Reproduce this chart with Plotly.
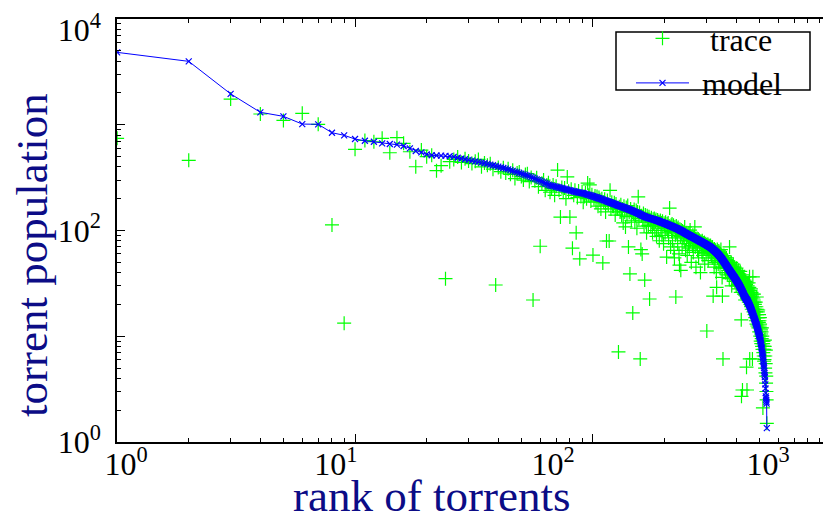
import plotly.graph_objects as go

# ---------------- data ----------------
MODEL = [
    4840, 3980, 1960, 1312, 1202, 1016, 1010, 841, 795, 733, 706, 691, 667, 658, 648, 630, 599, 565, 549, 525, 515, 512, 510, 508, 505,
    497, 488, 480, 472, 465, 458, 451, 445, 439, 433, 427, 420, 414, 408, 402, 396, 390, 385, 379, 373, 367, 361, 356, 350, 345,
    340, 335, 330, 325, 320, 315, 310, 305, 300, 295, 290, 285, 280, 276, 271, 267,
    265, 263, 261, 259, 257, 255, 253, 251, 249, 247, 245, 243, 241, 240, 238, 236, 235, 233, 232, 230, 229, 228, 227, 226, 225,
    223, 221, 220, 218, 217, 215, 214, 212, 211, 209, 208, 206, 205, 203, 202, 200, 199, 197, 196, 194, 193, 192, 190, 189, 187,
    186, 185, 183, 182, 181, 179, 178, 177, 176, 174,
    173, 172, 171, 170, 169, 168, 167, 166, 165, 164, 163, 162, 161, 160, 159, 158, 157, 156, 155, 154, 153, 152, 151, 150, 149,
    148, 147, 146, 145, 144, 143, 142, 141, 140, 139, 138, 137, 137, 136, 135, 134, 134, 133, 132, 132, 131, 131,
    130, 130, 129, 129, 128, 128, 127, 127, 126, 126, 125, 125, 124, 124, 123, 123, 122, 121, 121, 120,
    120, 119, 119, 118, 118, 117, 117, 116, 116, 115, 115, 114, 114, 113, 113, 112, 112, 111, 111, 110,
    110, 109, 109, 108, 108, 107, 107, 106, 106, 105, 105, 104, 104, 103, 103, 102, 102, 101, 101, 100,
    100, 99, 99, 98, 98, 97,
    96.5, 96, 95.5, 95, 94.6, 94.1, 93.6, 93.2, 92.7, 92.2, 91.8, 91.3, 90.9, 90.5, 90, 89.6, 89.2, 88.7, 88.3, 87.9,
    87.5, 87.1, 86.7, 86.3, 85.9, 85.5, 85.1, 84.7, 84.3, 83.9, 83.5, 83.2, 82.8, 82.4, 82.1, 81.7, 81.3, 81, 80.6, 80.3,
    79.9, 79.6, 79.2, 78.9, 78.5, 78.2, 77.9, 77.5, 77.2, 76.9, 76.5, 76.2, 75.9, 75.5, 75.2, 74.9, 74.5, 74.2, 73.9, 73.5,
    73.2, 72.9, 72.5, 72.2, 71.9, 71.5, 71.2, 70.9, 70.6, 70.3, 70,
    69.7, 69.3, 68.9, 68.5, 68.1, 67.7, 67.3, 66.9, 66.5, 66.1, 65.7, 65.3, 64.9, 64.5, 64.1, 63.7, 63.3, 62.9, 62.5, 62.1,
    61.7, 61.3, 60.8, 60.4, 60, 59.5, 59.1, 58.6, 58.2, 57.7, 57.3, 56.8, 56.3, 55.9, 55.4, 54.9, 54.5, 54, 53.5, 53.1, 52.6, 52.1,
    51.6, 51.1, 50.6, 50.2, 49.7, 49.2, 48.7, 48.3, 47.8, 47.3, 46.9, 46.5, 46, 45.6, 45.2, 44.8, 44.4, 43.9, 43.5, 43.1,
    42.7, 42.4, 42, 41.6, 41.3, 40.9, 40.5, 40.2, 39.8, 39.5, 39.2, 38.8, 38.5, 38.2, 37.9, 37.5, 37.2, 36.9, 36.6, 36.3,
    36, 35.7, 35.4, 35.1, 34.8, 34.5, 34.2, 33.9, 33.6, 33.3, 33,
    32.7, 32.4, 32.1, 31.8, 31.5, 31.2, 30.9, 30.6, 30.3, 30, 29.7, 29.4, 29.1, 28.8, 28.5, 28.2, 27.9, 27.6, 27.3, 27,
    26.7, 26.4, 26.1, 25.8, 25.5, 25.2, 24.9, 24.6, 24.3, 24, 23.8, 23.6, 23.4, 23.2, 23, 22.8, 22.6, 22.4, 22.2, 22.1, 22,
    21.8, 21.6, 21.3, 21.1, 20.9, 20.7, 20.4, 20.2, 20, 19.8, 19.6, 19.3, 19.1, 18.9, 18.7, 18.4, 18.2, 18, 17.8, 17.5,
    17.3, 17.1, 16.9, 16.6, 16.4, 16.2, 16, 15.7, 15.5, 15.3, 15.1, 14.9, 14.7, 14.5, 14.3,
    14.1, 13.9, 13.7, 13.5, 13.3, 13.1, 13, 12.8, 12.6, 12.4, 12.2, 12, 11.8, 11.6, 11.4, 11.2, 11, 10.8, 10.6, 10.4,
    10.3, 10.1, 9.9, 9.8,
    9.6, 9.3, 9.1, 8.9, 8.6, 8.4, 8.2, 7.9, 7.7, 7.5, 7.2, 7, 6.8, 6.6, 6.4,
    6.2, 5.9, 5.7, 5.4, 5.2, 5, 4.7, 4.5, 4.3, 4.1,
    3.8, 3.5, 3.2, 2.9, 2.7, 2.6, 2.5, 2.4, 2.3, 1.35,
]

TRACE = [
    745, 461, 1751, 1265, 1100, 1283, 1010, 113, 13.3, 586, 710, 691, 745, 544, 755, 668, 556, 401, 577, 499, 515, 368, 410, 35, 448,
    470, 495, 440, 478, 455, 430, 452, 470, 400, 436, 415, 428, 380, 30.5, 395, 360, 392, 350, 383, 340, 372, 310, 350, 358, 325,
    300, 338, 345, 290, 318, 22, 296, 315, 260, 71, 280, 300, 240, 270, 283, 230,
    250, 270, 215, 262, 373, 240, 134, 255, 230, 252, 200, 321, 235, 134, 245, 68, 215, 240, 95, 205, 236, 54, 210, 232, 185,
    210, 228, 200, 281, 215, 270, 190, 218, 58.6, 200, 212, 185, 210, 170, 205, 195, 160, 200, 49.3, 185, 198, 150, 79.6, 192, 175,
    79.6, 240, 160, 185, 170, 170, 183, 140, 178, 165,
    160, 7.1, 168, 150, 175, 140, 160, 118, 170, 150, 108, 165, 135, 172, 70, 150, 38.8, 160, 125, 150, 16.6, 145, 158, 120, 140,
    155, 105, 150, 208, 130, 148, 6.1, 66, 138, 60, 125, 145, 110, 34, 140, 120, 95, 138, 128, 112, 135, 22.5,
    125, 110, 132, 120, 95, 128, 115, 130, 100, 122, 127, 88, 118, 126, 105, 121, 80, 119, 124, 100,
    118, 90, 122, 110, 75, 117, 112, 95, 120, 105, 56, 115, 100, 118, 85, 110, 163, 108, 70, 112,
    98, 115, 80, 105, 112, 65, 55, 108, 90, 23.5, 110, 95, 104, 75, 107, 100, 60, 47, 103, 88,
    42, 101, 92, 70, 99, 85,
    90, 97, 80, 108, 93, 65, 92, 85, 95, 58, 90, 88, 75, 92, 68, 89, 101, 80, 88, 50,
    86, 84, 72, 90, 62, 85, 78, 87, 108, 70, 83, 45, 82, 76, 84, 65, 80, 83, 55, 79,
    81, 70, 78, 40, 79, 73, 77, 62, 80, 75, 58, 76, 74, 68, 77, 48, 74, 71, 75, 60,
    73, 11.2, 72, 66, 74, 52, 70, 72, 63, 71, 69,
    66, 72, 60, 68, 58, 70, 64, 70, 55, 24, 66, 62, 45, 67, 60, 50, 65, 58, 63, 40,
    29, 61, 66, 55, 62, 48, 60, 64, 52, 58, 62, 44, 57, 60, 66, 50, 56, 58, 36, 24, 55, 6.1,
    54, 50, 58, 48, 52, 45, 56, 49, 40, 53, 47, 55, 44, 50, 38, 52, 46, 42, 50, 44,
    48, 35, 70, 43, 47, 40, 45, 38, 50, 42, 30, 44, 40, 46, 36, 42, 48, 38, 43, 35,
    40, 45, 33, 38, 42, 36, 40, 30, 44, 37, 39,
    35, 40, 31, 38, 42, 33, 36, 28, 39, 34, 37, 30, 41, 33, 26, 36, 14.3, 2.7, 34, 30,
    38, 3.1, 32, 35, 28, 33, 36, 25, 31, 34, 29, 32, 22, 30, 33, 27, 31, 24, 5.1, 29, 3.1,
    28, 24, 30, 22, 27, 25, 32, 21, 26, 29, 36.5, 6.1, 24, 27, 20, 25, 28, 19, 23, 26,
    18, 24, 21, 6.1, 25, 36.5, 20, 23, 17, 22, 25, 18, 21, 16, 20,
    19, 15, 18, 21, 14, 17, 19, 13, 23.5, 16, 18, 12.5, 15, 17, 14, 17.7, 12, 15, 13.5, 16,
    11, 14, 12.5, 15,
    13, 10, 12, 9, 11.5, 10.5, 8.5, 11, 9.5, 12, 8, 10, 7.5, 9, 2.1,
    8.5, 7, 9, 6.5, 8, 5.8, 7.5, 6, 8, 9.2,
    5, 6.5, 4.5, 5.5, 7.4, 3.6, 4.2, 3, 2.5, 1.5,
]

TRACE_RANK = list(range(1, len(TRACE) + 1))
MODEL_RANK = list(range(1, len(MODEL) + 1))

X_MAJOR = [1, 10, 100, 1000]
X_MINOR = [m * 10 ** k for k in range(3) for m in range(2, 10)]
Y_MAJOR = [1, 10, 100, 1000, 10000]
Y_MINOR = [m * 10 ** k for k in range(4) for m in range(2, 10)]
# the top label sits a little below its tick in the reference
Y_LABEL_POS = [1, 100, 7900]
Y_LABEL_TEXT = ["10<sup>0</sup>", "10<sup>2</sup>", "10<sup>4</sup>"]
# x tick labels sit left of their ticks in the reference
X_LABEL_POS = [1.09, 8.3, 68, 545]
X_LABEL_TEXT = ["10<sup>0</sup>", "10<sup>1</sup>", "10<sup>2</sup>", "10<sup>3</sup>"]

SERIF = "Liberation Serif"
NAVY = "#0c0c86"
X_RANGE = [-0.0005, 3.0005]
Y_RANGE = [-0.0005, 4.0005]

# The page body adds an 8px offset, so the figure is 8px smaller on each axis
# and the margins are reduced by that offset.
W, H = 823, 508
ML, MT, MB = 109, 11, 74
PW, PH = W - ML, H - MT - MB


def px_x(p):  # window pixel -> paper x
    return (p - 8 - ML) / PW


def px_y(p):  # window pixel -> paper y
    return (H - MB - (p - 8)) / PH


fig = go.Figure()
fig.add_trace(go.Scatter(
    x=TRACE_RANK, y=TRACE, mode="markers", name="\u00a0\u00a0trace",
    marker=dict(symbol="cross-thin", size=10, line=dict(color="#00ff00", width=1.2), color="#00ff00"),
))
fig.add_trace(go.Scatter(
    x=MODEL_RANK, y=MODEL, mode="lines+markers", name="\u00a0model",
    line=dict(color="#0000ff", width=1),
    marker=dict(symbol="x-thin", size=6, line=dict(color="#0000ff", width=1.2), color="#0000ff"),
))
# invisible trace so the overlay label axes are drawn
fig.add_trace(go.Scatter(x=[1], y=[1], xaxis="x2", yaxis="y2", mode="markers",
                         marker=dict(opacity=0), showlegend=False, hoverinfo="skip"))

axis_common = dict(
    type="log", showgrid=False, zeroline=False, showline=True, linecolor="black", linewidth=1.5,
    mirror="ticks", ticks="inside", ticklen=8, tickwidth=1, tickcolor="black",
    showticklabels=False, automargin=False, tickmode="array",
)
label_axis = dict(
    type="log", showgrid=False, zeroline=False, showline=False, ticks="", automargin=False,
    tickmode="array", tickfont=dict(family=SERIF, size=32, color="black"),
    ticklabeloverflow="allow",
)

fig.update_layout(
    template="none",
    width=W, height=H,
    margin=dict(l=ML, r=0, t=MT, b=MB, pad=0),
    paper_bgcolor="white", plot_bgcolor="white",
    font=dict(family=SERIF, color="black"),
    xaxis=dict(
        **axis_common, range=X_RANGE, tickvals=X_MAJOR,
        minor=dict(tickmode="array", tickvals=X_MINOR, ticks="inside", ticklen=4, tickcolor="black", showgrid=False),
    ),
    yaxis=dict(
        **axis_common, range=Y_RANGE, tickvals=Y_MAJOR,
        minor=dict(tickmode="array", tickvals=Y_MINOR, ticks="inside", ticklen=4, tickcolor="black", showgrid=False),
    ),
    xaxis2=dict(**label_axis, range=X_RANGE, overlaying="x", anchor="y", side="bottom",
                tickvals=X_LABEL_POS, ticktext=X_LABEL_TEXT),
    yaxis2=dict(**label_axis, range=Y_RANGE, overlaying="y", anchor="x", side="left",
                tickvals=Y_LABEL_POS, ticktext=Y_LABEL_TEXT, ticklabelstandoff=15),
    legend=dict(
        x=px_x(631), y=px_y(11), xanchor="left", yanchor="top",
        bgcolor="rgba(0,0,0,0)", borderwidth=0,
        font=dict(family=SERIF, size=32, color="black"),
        itemwidth=53, tracegroupgap=0,
    ),
    showlegend=True,
)

# legend frame as drawn in the reference
fig.add_shape(type="rect", xref="paper", yref="paper",
              x0=px_x(616), x1=px_x(810), y0=px_y(90), y1=px_y(32),
              line=dict(color="black", width=1.5), fillcolor="rgba(0,0,0,0)", layer="above")

fig.add_annotation(
    text="rank of torrents", xref="paper", yref="paper", x=px_x(431), y=px_y(496),
    showarrow=False, xanchor="center", yanchor="middle",
    font=dict(family=SERIF, size=45, color=NAVY),
)
fig.add_annotation(
    text="torrent population", xref="paper", yref="paper", x=px_x(32), y=px_y(255),
    showarrow=False, xanchor="center", yanchor="middle", textangle=-90,
    font=dict(family=SERIF, size=45, color=NAVY),
)

fig.write_html("out.html")
